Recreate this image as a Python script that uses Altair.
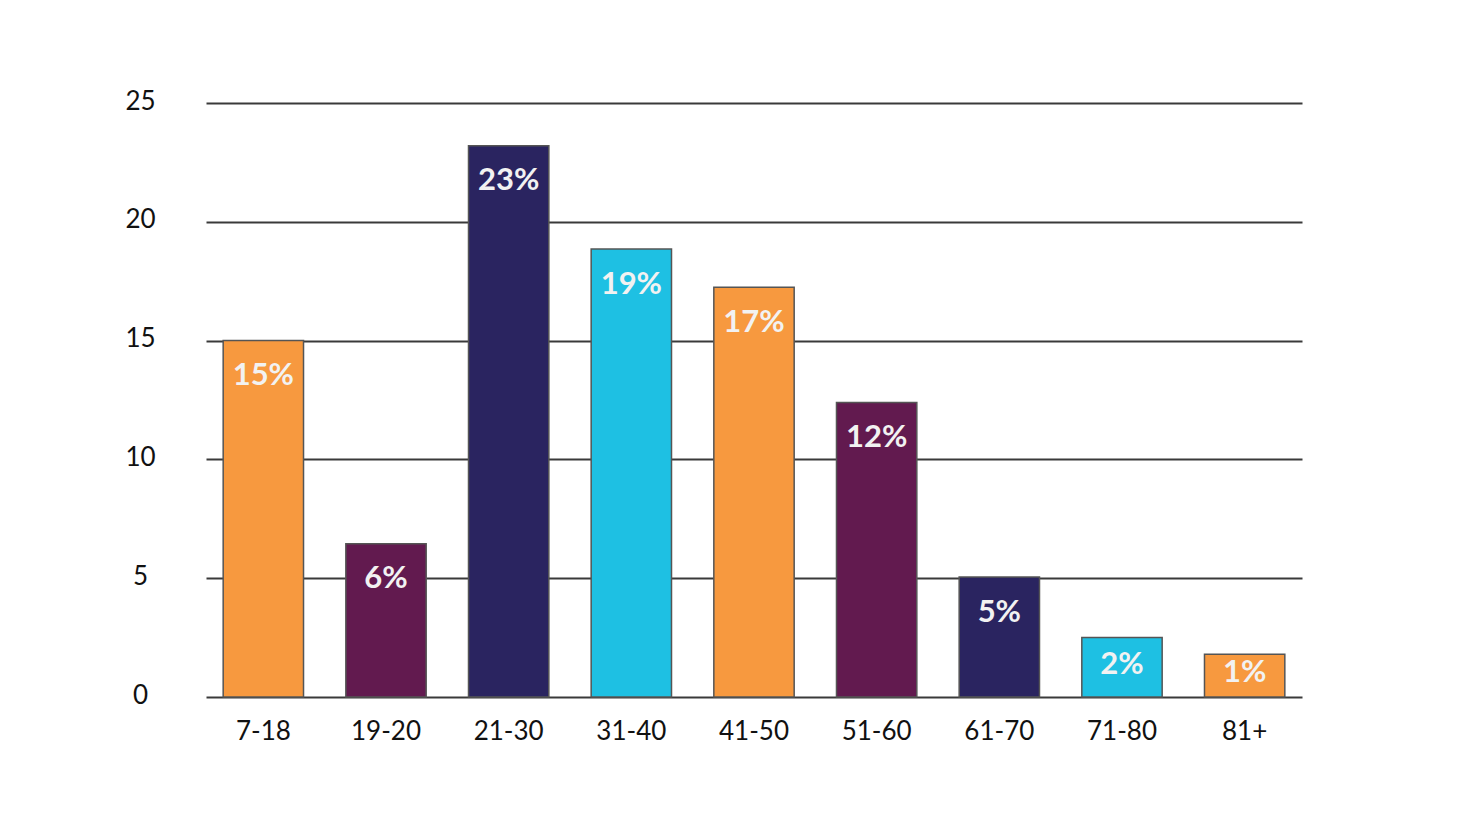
import altair as alt
import pandas as pd

categories = ["7-18", "19-20", "21-30", "31-40", "41-50", "51-60", "61-70", "71-80", "81+"]
values = [15.0, 6.45, 23.2, 18.85, 17.25, 12.4, 5.05, 2.5, 1.8]
labels = ["15%", "6%", "23%", "19%", "17%", "12%", "5%", "2%", "1%"]
colors = ["#F7993F", "#621A4F", "#2A2460", "#1EC0E3", "#F7993F", "#621A4F", "#2A2460", "#1EC0E3", "#F7993F"]
y_ticks = [0, 5, 10, 15, 20, 25]

df = pd.DataFrame({"cat": categories, "value": values, "label": labels, "color": colors})

FONT = "Lato"

x = alt.X("cat:N", sort=categories, title=None,
          scale=alt.Scale(paddingInner=0.345, paddingOuter=0.14),
          axis=alt.Axis(labelAngle=0, labelFontSize=26, labelColor="#111111", labelFont=FONT,
                        ticks=False, domain=False, labelPadding=21, grid=False))

bars = alt.Chart(df).mark_bar(stroke="#555555", strokeWidth=1.5).encode(
    x=x,
    y=alt.Y("value:Q", title=None,
            scale=alt.Scale(domain=[0, 25], nice=False),
            axis=alt.Axis(values=y_ticks, labelFontSize=26, labelColor="#111111", labelFont=FONT,
                          labelAlign="center", labelPadding=66, labelOffset=-2,
                          ticks=False, domain=False, grid=True, gridColor="#3a3a3a",
                          gridWidth=1.8, gridOpacity=1)),
    color=alt.Color("color:N", scale=None),
)

text = alt.Chart(df).transform_calculate(
    ypos="max(datum.value - 1.5, datum.value / 2 + 0.1)"
).mark_text(font=FONT, fontSize=31, fontWeight="bold", color="#F2F2F2", baseline="middle").encode(
    x=alt.X("cat:N", sort=categories),
    y=alt.Y("ypos:Q"),
    text="label:N",
)

chart = alt.layer(bars, text).properties(
    width=1096, height=594,
    autosize=alt.AutoSizeParams(type="none"),
    padding={"left": 198, "top": 95, "right": 100, "bottom": 100},
    background="white",
).configure_view(stroke=None)

chart.save("out.html", embed_options={"renderer": "svg", "actions": False})
